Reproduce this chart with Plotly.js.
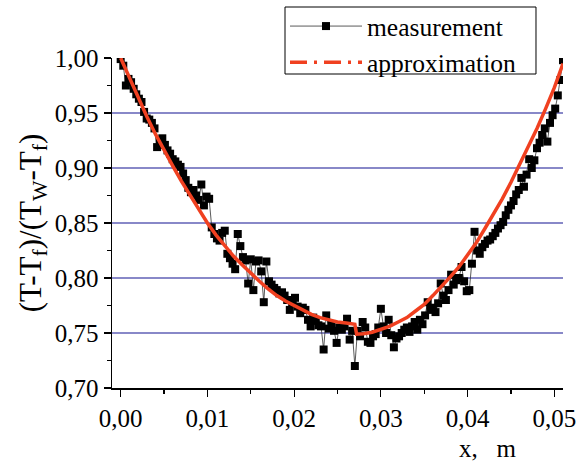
<!DOCTYPE html>
<html>
<head>
<meta charset="utf-8">
<script src="https://cdn.plot.ly/plotly-3.0.1.min.js"></script>
<style>html,body{margin:0;padding:0;background:#fff;}#chart{width:585px;height:467px;}</style>
</head>
<body>
<div id="chart"></div>
<script>
// Measurement series (x in m, dimensionless temperature)
const measX = [0.0000,0.0003,0.0006,0.0009,0.0012,0.0015,0.0018,0.0021,0.0024,0.0027,
0.0030,0.0033,0.0036,0.0039,0.0042,0.0045,0.0048,0.0051,0.0054,0.0057,
0.0060,0.0063,0.0066,0.0069,0.0072,0.0075,0.0078,0.0081,0.0084,0.0087,
0.0090,0.0093,0.0096,0.0099,0.0102,0.0105,0.0108,0.0111,0.0114,0.0117,
0.0120,0.0123,0.0126,0.0129,0.0132,0.0135,0.0138,0.0141,0.0144,0.0147,
0.0150,0.0153,0.0156,0.0159,0.0162,0.0165,0.0168,0.0171,0.0174,0.0177,
0.0180,0.0183,0.0186,0.0189,0.0192,0.0195,0.0198,0.0201,0.0204,0.0207,
0.0210,0.0213,0.0216,0.0219,0.0222,0.0225,0.0228,0.0231,0.0234,0.0237,
0.0240,0.0243,0.0246,0.0249,0.0252,0.0255,0.0258,0.0261,0.0264,0.0267,
0.0270,0.0273,0.0276,0.0279,0.0282,0.0285,0.0288,0.0291,0.0294,0.0297,
0.0300,0.0303,0.0306,0.0309,0.0312,0.0315,0.0318,0.0321,0.0324,0.0327,
0.0330,0.0333,0.0336,0.0339,0.0342,0.0345,0.0348,0.0351,0.0354,0.0357,
0.0360,0.0363,0.0366,0.0369,0.0372,0.0375,0.0378,0.0381,0.0384,0.0387,
0.0390,0.0393,0.0396,0.0399,0.0402,0.0405,0.0408,0.0411,0.0414,0.0417,
0.0420,0.0423,0.0426,0.0429,0.0432,0.0435,0.0438,0.0441,0.0444,0.0447,
0.0450,0.0453,0.0456,0.0459,0.0462,0.0465,0.0468,0.0471,0.0474,0.0477,
0.0480,0.0483,0.0486,0.0489,0.0492,0.0495,0.0498,0.0501,0.0504,0.0507,
0.0510];
const measY = [0.999,0.993,0.975,0.981,0.978,0.972,0.967,0.963,0.960,0.951,
0.945,0.944,0.941,0.936,0.919,0.925,0.927,0.921,0.916,0.913,
0.908,0.906,0.903,0.901,0.895,0.889,0.882,0.878,0.880,0.875,
0.871,0.885,0.866,0.874,0.872,0.846,0.840,0.836,0.834,0.841,
0.843,0.822,0.818,0.813,0.808,0.840,0.829,0.819,0.816,0.795,
0.817,0.789,0.815,0.816,0.806,0.778,0.815,0.797,0.794,0.791,
0.789,0.786,0.787,0.784,0.780,0.771,0.778,0.782,0.774,0.768,
0.773,0.771,0.762,0.756,0.764,0.761,0.757,0.756,0.735,0.766,
0.754,0.758,0.752,0.741,0.755,0.753,0.756,0.763,0.744,0.752,
0.720,0.752,0.747,0.760,0.755,0.742,0.741,0.747,0.749,0.755,
0.772,0.756,0.750,0.762,0.748,0.737,0.745,0.747,0.750,0.753,
0.755,0.751,0.756,0.760,0.753,0.762,0.758,0.766,0.778,0.771,
0.773,0.769,0.777,0.795,0.784,0.780,0.789,0.803,0.794,0.798,
0.800,0.810,0.797,0.788,0.789,0.813,0.842,0.825,0.822,0.828,
0.831,0.834,0.835,0.838,0.841,0.845,0.848,0.851,0.857,0.862,
0.866,0.870,0.876,0.880,0.891,0.883,0.894,0.908,0.900,0.907,
0.918,0.923,0.930,0.936,0.924,0.941,0.948,0.954,0.966,0.980,
0.998];

// Approximation curve
const approxX = [0.000,0.001,0.002,0.003,0.004,0.005,0.006,0.007,0.008,0.009,
0.010,0.011,0.012,0.013,0.014,0.015,0.016,0.017,0.018,0.019,
0.020,0.021,0.022,0.023,0.024,0.025,0.026,0.027,
0.0272,0.028,0.029,0.030,0.031,0.032,0.033,0.034,0.035,0.036,
0.037,0.038,0.039,0.040,0.041,0.042,0.043,0.044,0.045,0.046,
0.047,0.048,0.049,0.050,0.051];
const approxY = [1.000,0.982,0.964,0.947,0.931,0.916,0.902,0.888,0.875,0.862,
0.850,0.839,0.829,0.820,0.812,0.804,0.797,0.790,0.784,0.779,
0.775,0.771,0.767,0.764,0.762,0.760,0.759,0.758,
0.749,0.7494,0.7507,0.753,0.756,0.760,0.764,0.770,0.776,0.784,
0.792,0.801,0.810,0.821,0.832,0.845,0.858,0.872,0.887,0.903,
0.919,0.936,0.954,0.973,0.995];

const yTicks = [0.70,0.75,0.80,0.85,0.90,0.95,1.00];
const xTicks = [0.00,0.01,0.02,0.03,0.04,0.05];

const SERIF = 'Times New Roman';

const traces = [
  {
    x: measX, y: measY, type: 'scatter', mode: 'lines+markers', name: 'measurement',
    line: {color: '#303030', width: 0.8},
    marker: {symbol: 'square', size: 8, color: '#000000'}
  },
  {
    x: approxX, y: approxY, type: 'scatter', mode: 'lines', name: 'approximation',
    line: {color: '#F04020', width: 3.5}, showlegend: false
  },
  {
    x: [null], y: [null], type: 'scatter', mode: 'lines', name: 'approximation',
    line: {color: '#F04020', width: 3.5, dash: '17px,7px,3px,7px'}
  }
];

const layout = {
  width: 585, height: 467,
  margin: {l: 112, r: 22, t: 58, b: 79, autoexpand: false},
  paper_bgcolor: '#ffffff', plot_bgcolor: '#ffffff',
  separators: ', ',
  font: {family: SERIF, color: '#000', size: 25},
  showlegend: true,
  legend: {
    x: 0.3836, y: 1.1667, xanchor: 'left', yanchor: 'top',
    bgcolor: 'rgba(0,0,0,0)', borderwidth: 0,
    font: {family: SERIF, size: 25.5, color: '#000'},
    itemwidth: 72, tracegroupgap: 0
  },
  shapes: [{
    type: 'rect', xref: 'paper', yref: 'paper', layer: 'above',
    x0: 0.3836, x1: 0.9401, y0: 0.9515, y1: 1.1545,
    fillcolor: '#ffffff', line: {color: '#000000', width: 1}
  }],
  xaxis: {
    range: [-0.001, 0.051],
    tickvals: xTicks, tickformat: '.2f',
    ticks: 'outside', ticklen: 7, tickwidth: 1.2, tickcolor: '#000',
    minor: {dtick: 0.005, tick0: 0, ticks: 'outside', ticklen: 4, tickwidth: 1.2, tickcolor: '#000', showgrid: false},
    showline: true, linecolor: '#000', linewidth: 1.5,
    showgrid: false, zeroline: false,
    tickfont: {family: SERIF, size: 25, color: '#000'}
  },
  yaxis: {
    range: [0.70, 1.00],
    tickvals: yTicks, tickformat: '.2f',
    ticks: 'outside', ticklen: 7, tickwidth: 1.2, tickcolor: '#000',
    minor: {dtick: 0.025, tick0: 0.70, ticks: 'outside', ticklen: 4, tickwidth: 1.2, tickcolor: '#000', showgrid: false},
    showline: true, linecolor: '#000', linewidth: 1.5,
    showgrid: true, gridcolor: '#8888C8', gridwidth: 1.5,
    zeroline: false,
    tickfont: {family: SERIF, size: 25, color: '#000'},
    title: {text: '(T-T<sub>f</sub>)/(T<sub>W</sub>-T<sub>f</sub>)', font: {family: SERIF, size: 31, color: '#000'}, standoff: 4}
  },
  annotations: [{
    text: 'x,&nbsp;&nbsp;&nbsp;m', xref: 'paper', yref: 'paper',
    x: 0.834, y: -0.182, xanchor: 'center', yanchor: 'middle', showarrow: false,
    font: {family: SERIF, size: 25, color: '#000'}
  }]
};

Plotly.newPlot('chart', traces, layout, {displayModeBar: false, staticPlot: true});
</script>
</body>
</html>
